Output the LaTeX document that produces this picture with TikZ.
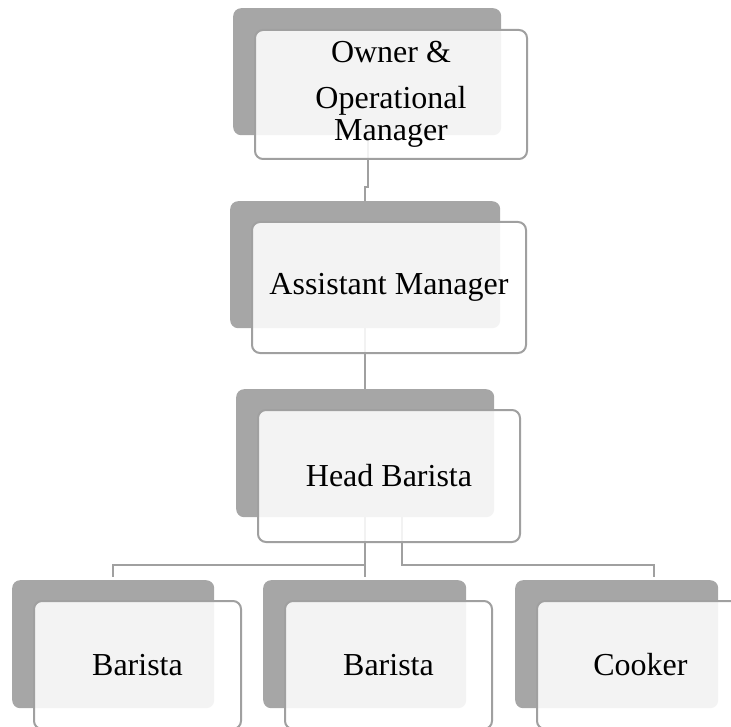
\documentclass[tikz,border=0pt]{standalone}
\usepackage{fontspec}
\setmainfont{Liberation Serif}
\usepackage{xcolor}
\definecolor{shadegray}{HTML}{A6A6A6}
\definecolor{linegray}{HTML}{A0A0A0}

\begin{document}
\begin{tikzpicture}[x=1pt, y=-1pt,
  back/.style={fill=shadegray, rounded corners=8pt, anchor=north west, inner sep=0pt},
  front/.style={draw=linegray, line width=2pt, fill=white, fill opacity=0.87, text opacity=1, rounded corners=8pt, anchor=north west, inner sep=0pt, align=center, font=\fontsize{32}{32}\selectfont},
  link/.style={draw=linegray, line width=2pt}]

\useasboundingbox (0,0) rectangle (731,727);
\clip (0,0) rectangle (731,727);

% Shadow boxes

\node [back, minimum width=268, minimum height=127] (ownB) at (233,8) {};
\node [back, minimum width=270, minimum height=127] (asmB) at (230,201) {};
\node [back, minimum width=258, minimum height=128] (hbB) at (236,389) {};

\node [back, minimum width=202, minimum height=128] (ba1B) at (12,580) {};
\node [back, minimum width=203, minimum height=128] (ba2B) at (263,580) {};
\node [back, minimum width=203, minimum height=128] (coB) at (515,580) {};

% Lines

\draw [link] ([xshift=1pt]ownB.south) -- ++(0,52) -| (asmB.north);
\draw [link] (asmB.south) -- (hbB.north);

\draw [link, shorten >=3pt] (hbB.south) -- ++(0,48) -| (ba1B.north);
\draw [link, shorten >=3pt] (hbB.south) -- ++(0,48) -| (ba2B.north);
\draw [link, shorten >=3pt] ([xshift=37pt]hbB.south) -- ++(0,48) -| ([xshift=37pt]coB.north);

% Text boxes

\node [front, minimum width=272, minimum height=129] (own) at (254,29) {Owner \&\\[14pt]Operational\\Manager};
\node [front, minimum width=274, minimum height=131] (asm) at (251,221) {Assistant Manager};
\node [front, minimum width=262, minimum height=132] (hb) at (257,409) {Head Barista};

\node [front, minimum width=207, minimum height=128] (ba1) at (33,600) {Barista};
\node [front, minimum width=207, minimum height=128] (ba2) at (284,600) {Barista};
\node [front, minimum width=207, minimum height=128] (co) at (536,600) {Cooker};

\end{tikzpicture}
\end{document}
